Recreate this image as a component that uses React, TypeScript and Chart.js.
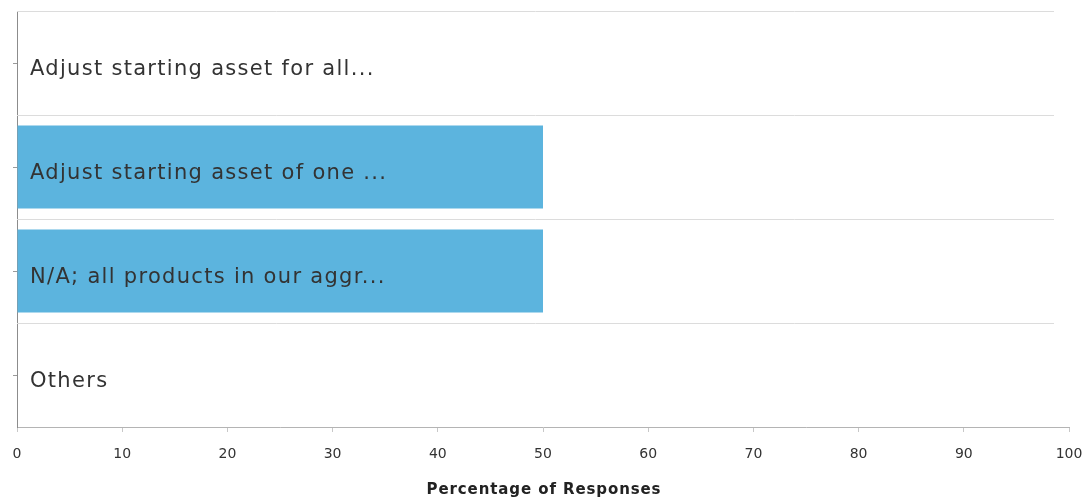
import React, { useEffect, useRef } from "react";
import { Chart, registerables } from "chart.js";

Chart.register(...registerables);

const categories: string[] = [
  "Adjust starting asset for all...",
  "Adjust starting asset of one ...",
  "N/A; all products in our aggr...",
  "Others",
];
const responsePercent: number[] = [0, 50, 50, 0];
const xTickValues: number[] = [0, 10, 20, 30, 40, 50, 60, 70, 80, 90, 100];
const xAxisTitle = "Percentage of Responses";

const FONT = "'DejaVu Sans', Verdana, sans-serif";
const BAR_COLOR = "#5cb4de";

// Light separators between category bands, drawn under the bars.
const bandLines = {
  id: "bandLines",
  beforeDatasetsDraw(chart: any) {
    const y = chart.scales.y;
    const area = chart.chartArea;
    const ctx = chart.ctx;
    const n = chart.data.labels.length;
    const step = n > 1 ? y.getPixelForValue(1) - y.getPixelForValue(0) : area.bottom - area.top;
    ctx.save();
    ctx.strokeStyle = "#dcdcdc";
    ctx.lineWidth = 1;
    for (let i = 0; i < n; i++) {
      const py = Math.round(y.getPixelForValue(i) - step / 2) + 0.5;
      ctx.beginPath();
      ctx.moveTo(area.left, py);
      ctx.lineTo(area.right - 15, py);
      ctx.stroke();
    }
    ctx.restore();
  },
};

// Category names written inside the plot, over the bars, plus the x-axis title.
const overlayText = {
  id: "overlayText",
  afterDatasetsDraw(chart: any) {
    const y = chart.scales.y;
    const x = chart.scales.x;
    const area = chart.chartArea;
    const ctx = chart.ctx;
    ctx.save();
    ctx.fillStyle = "#333333";
    ctx.font = `21px ${FONT}`;
    (ctx as any).letterSpacing = "1.3px";
    ctx.textAlign = "left";
    ctx.textBaseline = "alphabetic";
    chart.data.labels.forEach((label: string, i: number) => {
      ctx.fillText(label, area.left + 13, y.getPixelForValue(i) + 12);
    });
    ctx.fillStyle = "#222222";
    ctx.font = `bold 15px ${FONT}`;
    (ctx as any).letterSpacing = "0.9px";
    ctx.textAlign = "center";
    ctx.textBaseline = "middle";
    ctx.fillText(xAxisTitle, (x.left + x.right) / 2 + 1, x.bottom - 9);
    ctx.restore();
  },
};

export default function App() {
  const canvasRef = useRef<HTMLCanvasElement | null>(null);

  useEffect(() => {
    document.body.style.margin = "0";
    const canvas = canvasRef.current;
    if (!canvas) return;
    const chart = new Chart(canvas, {
      type: "bar",
      data: {
        labels: categories,
        datasets: [
          {
            data: responsePercent,
            backgroundColor: BAR_COLOR,
            borderWidth: 0,
            barPercentage: 0.8,
            categoryPercentage: 1.0,
          },
        ],
      },
      options: {
        indexAxis: "y",
        responsive: false,
        animation: false,
        devicePixelRatio: 1,
        layout: { padding: { top: 11, right: 18, bottom: 0, left: 0 } },
        plugins: {
          legend: { display: false },
          tooltip: { enabled: false },
        },
        scales: {
          x: {
            type: "linear",
            min: 0,
            max: 100,
            afterBuildTicks: (scale: any) => {
              scale.ticks = xTickValues.map((v) => ({ value: v }));
            },
            afterFit: (scale: any) => {
              scale.height = 72;
              scale.paddingLeft = 0;
              scale.paddingRight = 0;
            },
            border: { display: true, color: "#b4b4b4", width: 1 },
            grid: {
              drawOnChartArea: false,
              drawTicks: true,
              tickLength: 5,
              color: "#c8c8c8",
            },
            ticks: {
              color: "#333333",
              font: { family: FONT, size: 14 },
              padding: 14,
              maxRotation: 0,
            },
          },
          y: {
            type: "category",
            offset: true,
            afterFit: (scale: any) => {
              scale.width = 17;
            },
            border: { display: true, color: "#8c8c8c", width: 1 },
            grid: {
              offset: false,
              drawOnChartArea: false,
              drawTicks: true,
              tickLength: 4,
              color: "#9a9a9a",
            },
            ticks: {
              display: false,
            },
          },
        },
      },
      plugins: [bandLines, overlayText],
    });
    return () => chart.destroy();
  }, []);

  return (
    <div style={{ width: 1087, height: 499, background: "#ffffff" }}>
      <canvas ref={canvasRef} width={1087} height={499} style={{ display: "block" }} />
    </div>
  );
}
